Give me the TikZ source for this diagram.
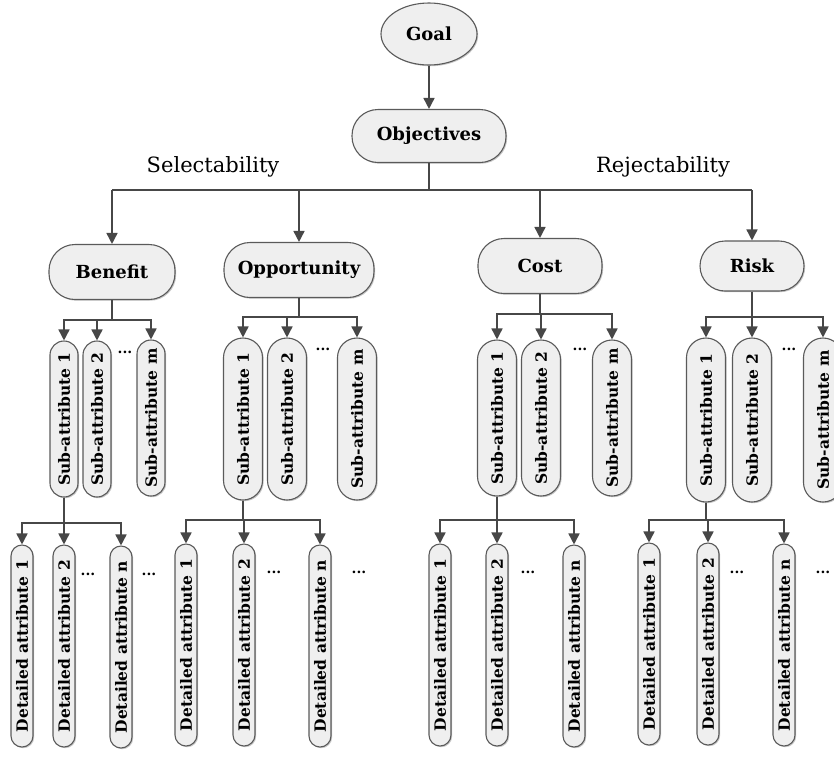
\documentclass[tikz,border=0pt]{standalone}
\usepackage{fontspec}
\setmainfont{DejaVu Serif}
\usetikzlibrary{arrows.meta,shapes.geometric,shadows}
\definecolor{boxfill}{HTML}{EFEFEF}
\definecolor{boxline}{HTML}{5A5A5A}
\definecolor{conn}{HTML}{474747}
\begin{document}
\begin{tikzpicture}[x=1pt,y=-1pt,
  box/.style={draw=boxline, line width=1.1pt, fill=boxfill,
    drop shadow={shadow xshift=1.2pt, shadow yshift=-1.2pt, fill=black, opacity=0.22},
    inner sep=0pt, font=\fontsize{18}{20}\selectfont\bfseries},
  top/.style={box, rounded corners=26pt},
  vsub/.style={box, rotate=90, minimum height=39pt, rounded corners=19.5pt,
    font=\fontsize{15.5}{18}\selectfont\bfseries},
  vsubn/.style={vsub, minimum height=28pt, rounded corners=14pt},
  vdet/.style={box, rotate=90, minimum width=202pt, minimum height=22pt, rounded corners=11pt,
    font=\fontsize{15.5}{18}\selectfont\bfseries},
  conn/.style={draw=conn, line width=1.6pt},
  arr/.style={conn, -{Triangle[length=11pt,width=11pt]}},
  dots/.style={font=\fontsize{14}{14}\selectfont\bfseries, inner sep=0pt},
  lab/.style={font=\fontsize{21}{23}\selectfont, inner sep=0pt}
]
\useasboundingbox (0,0) rectangle (834,756);

% top
\node[box, ellipse, minimum width=96pt, minimum height=62pt] (goal) at (429,34) {Goal};
\node[top, minimum width=154pt, minimum height=53pt] (obj) at (429,136) {Objectives};
\draw[arr] (goal) -- (obj);

\node[lab] (sel) at (213,167) {Selectability};
\node[lab] (rej) at (663,167) {Rejectability};

\node[top, minimum width=126pt, minimum height=55pt] (ben) at (112,272) {Benefit};
\node[top, minimum width=150pt, minimum height=55pt] (opp) at (299,270) {Opportunity};
\node[top, minimum width=124pt, minimum height=55pt] (cost) at (540,266) {Cost};
\node[top, minimum width=104pt, minimum height=50pt, rounded corners=25pt] (risk) at (752,266) {Risk};

\coordinate (bar) at (429,190);
\coordinate (barL) at (112,190);
\coordinate (barR) at (752,190);
\draw[conn] (obj.south) -- (bar);
\draw[conn] (barL) -- (barR);
\draw[arr] (barL) -- (ben.north);
\draw[arr] (opp.north |- bar) -- (opp.north);
\draw[arr] (cost.north |- bar) -- (cost.north);
\draw[arr] (barR) -- (risk.north);

% sub-attributes: Benefit
\node[vsubn, minimum width=156pt] (b1) at (64,419) {Sub-attribute 1};
\node[vsubn, minimum width=156pt] (b2) at (97,419) {Sub-attribute 2};
\node[vsubn, minimum width=156pt] (bm) at (151,418) {Sub-attribute m};
\node[dots] (bd) at (125,352) {...};
\coordinate (bj) at (112,320);
\draw[conn] (ben.south) -- (bj);
\draw[arr] (bj) -| (b1.east);
\draw[arr] (bj) -| (b2.east);
\draw[arr] (bj) -| (bm.east);

% Opportunity
\node[vsub, minimum width=162pt] (o1) at (243,419) {Sub-attribute 1};
\node[vsub, minimum width=162pt] (o2) at (287,419) {Sub-attribute 2};
\node[vsub, minimum width=162pt] (om) at (357,419) {Sub-attribute m};
\node[dots] (od) at (323,349) {...};
\coordinate (oj) at (299,317);
\draw[conn] (opp.south) -- (oj);
\draw[arr] (oj) -| (o1.east);
\draw[arr] (oj) -| (o2.east);
\draw[arr] (oj) -| (om.east);

% Cost
\node[vsub, minimum width=156pt] (c1) at (497,418) {Sub-attribute 1};
\node[vsub, minimum width=156pt] (c2) at (541,418) {Sub-attribute 2};
\node[vsub, minimum width=156pt] (cm) at (612,418) {Sub-attribute m};
\node[dots] (cd) at (580,349) {...};
\coordinate (cj) at (540,314);
\draw[conn] (cost.south) -- (cj);
\draw[arr] (cj) -| (c1.east);
\draw[arr] (cj) -| (c2.east);
\draw[arr] (cj) -| (cm.east);

% Risk
\node[vsub, minimum width=164pt] (r1) at (706,420) {Sub-attribute 1};
\node[vsub, minimum width=164pt] (r2) at (752,420) {Sub-attribute 2};
\node[vsub, minimum width=164pt] (rm) at (823,420) {Sub-attribute m};
\node[dots] (rd) at (789,349) {...};
\coordinate (rj) at (752,317);
\draw[conn] (risk.south) -- (rj);
\draw[arr] (rj) -| (r1.east);
\draw[arr] (rj) -| (r2.east);
\draw[arr] (rj) -| (rm.east);

% Detailed: Benefit
\node[vdet] (bd1) at (22,646) {Detailed attribute 1};
\node[vdet] (bd2) at (64,646) {Detailed attribute 2};
\node[vdet] (bdn) at (121,647) {Detailed attribute n};
\node[dots] (bdd1) at (88,574) {...};
\node[dots] (bdd2) at (149,574) {...};
\coordinate (bdj) at (64,523);
\draw[conn] (b1.west) -- (bdj);
\draw[arr] (bdj) -| (bd1.east);
\draw[arr] (bdj) -| (bd2.east);
\draw[arr] (bdj) -| (bdn.east);

% Detailed: Opportunity
\node[vdet] (od1) at (186,645) {Detailed attribute 1};
\node[vdet] (od2) at (244,645) {Detailed attribute 2};
\node[vdet] (odn) at (320,646) {Detailed attribute n};
\node[dots] (odd1) at (274,572) {...};
\node[dots] (odd2) at (359,572) {...};
\coordinate (odj) at (243,520);
\draw[conn] (o1.west) -- (odj);
\draw[arr] (odj) -| (od1.east);
\draw[arr] (odj) -| (od2.east);
\draw[arr] (odj) -| (odn.east);

% Detailed: Cost
\node[vdet] (cd1) at (440,645) {Detailed attribute 1};
\node[vdet] (cd2) at (497,645) {Detailed attribute 2};
\node[vdet] (cdn) at (574,646) {Detailed attribute n};
\node[dots] (cdd1) at (528,572) {...};
\coordinate (cdj) at (497,520);
\draw[conn] (c1.west) -- (cdj);
\draw[arr] (cdj) -| (cd1.east);
\draw[arr] (cdj) -| (cd2.east);
\draw[arr] (cdj) -| (cdn.east);

% Detailed: Risk
\node[vdet] (rd1) at (649,644) {Detailed attribute 1};
\node[vdet] (rd2) at (708,644) {Detailed attribute 2};
\node[vdet] (rdn) at (784,645) {Detailed attribute n};
\node[dots] (rdd1) at (737,572) {...};
\node[dots] (rdd2) at (823,572) {...};
\coordinate (rdj) at (706,520);
\draw[conn] (r1.west) -- (rdj);
\draw[arr] (rdj) -| (rd1.east);
\draw[arr] (rdj) -| (rd2.east);
\draw[arr] (rdj) -| (rdn.east);
\end{tikzpicture}
\end{document}
